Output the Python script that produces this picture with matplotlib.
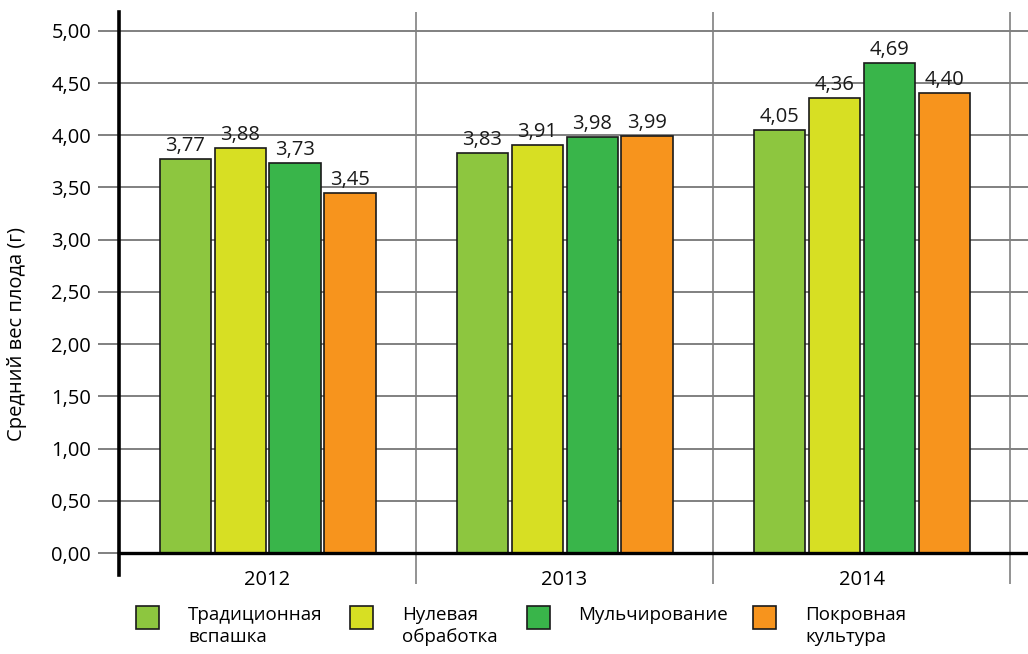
import numpy as np
import matplotlib
matplotlib.use('Agg')
import matplotlib.pyplot as plt
from matplotlib.patches import Rectangle

plt.rcParams['font.family'] = ['Open Sans', 'DejaVu Sans']

years = ['2012', '2013', '2014']
series_names = ['Традиционная\nвспашка', 'Нулевая\nобработка', 'Мульчирование', 'Покровная\nкультура']
traditional = [3.77, 3.83, 4.05]
no_till = [3.88, 3.91, 4.36]
mulching = [3.73, 3.98, 4.69]
cover_crop = [3.45, 3.99, 4.40]
y_ticks = [0, 0.5, 1.0, 1.5, 2.0, 2.5, 3.0, 3.5, 4.0, 4.5, 5.0]

series = [traditional, no_till, mulching, cover_crop]
colors = ['#8DC63F', '#D7DF23', '#39B54A', '#F7941D']

W, H = 1028, 654
fig = plt.figure(figsize=(W / 100, H / 100), dpi=100)
ax = fig.add_axes([119 / W, 1 - 553 / H, 1 - 119 / W, (553 - 12) / H])

x = np.arange(len(years))
step = 0.185
width = 0.172
offsets = (np.arange(len(series)) - 1.5) * step

for vals, off, col in zip(series, offsets, colors):
    bars = ax.bar(x + off, vals, width, color=col, edgecolor='#1a1a1a',
                  linewidth=1.2, zorder=3)
    for b, v in zip(bars, vals):
        ax.text(b.get_x() + b.get_width() / 2, v + 0.03,
                f'{v:.2f}'.replace('.', ','), ha='center', va='bottom',
                fontsize=14.5, color='#1a1a1a', zorder=4)

ax.set_xlim(-0.5, 2.56)
ax.set_ylim(0, 5.18)

# horizontal grid + tick stubs on the left
ax.set_yticks(y_ticks)
ax.set_yticklabels([f'{t:.2f}'.replace('.', ',') for t in y_ticks], fontsize=14.5)
ax.yaxis.grid(True, color='#808080', linewidth=1.4, zorder=1)
ax.tick_params(axis='y', length=15, width=1.4, color='#808080', pad=5)

# vertical separators between years, extended below the axis
ax.set_xticks([0.5, 1.5, 2.5])
ax.set_xticklabels([])
ax.xaxis.grid(True, color='#808080', linewidth=1.2, zorder=1)
ax.tick_params(axis='x', length=22, width=1.2, color='#808080')

for i, yr in enumerate(years):
    ax.text(i, -0.16, yr, ha='center', va='top', fontsize=14.5)

for s in ['top', 'right', 'left']:
    ax.spines[s].set_visible(False)
ax.spines['bottom'].set_linewidth(2.4)
ax.spines['bottom'].set_color('black')
ax.spines['bottom'].set_zorder(5)

# y axis line reaching below the baseline
ax.plot([-0.5, -0.5], [-0.21, 5.18], color='black', linewidth=2.6,
        clip_on=False, zorder=6)

ax.set_ylabel('Средний вес плода (г)', fontsize=14.5)
ax.yaxis.set_label_coords(-92 / (W - 119), 0.405)

# legend
leg_sq = [136, 350, 527, 753]
leg_tx = [188, 402, 578, 805]
for sx, tx, name, col in zip(leg_sq, leg_tx, series_names, colors):
    fig.add_artist(Rectangle((sx / W, 1 - 629 / H), 23 / W, 23 / H,
                             transform=fig.transFigure, facecolor=col,
                             edgecolor='#1a1a1a', linewidth=1.2))
    fig.text(tx / W, 1 - 606 / H, name, ha='left', va='top', fontsize=13.5,
             linespacing=1.25)

fig.savefig('out.png', dpi=100)
